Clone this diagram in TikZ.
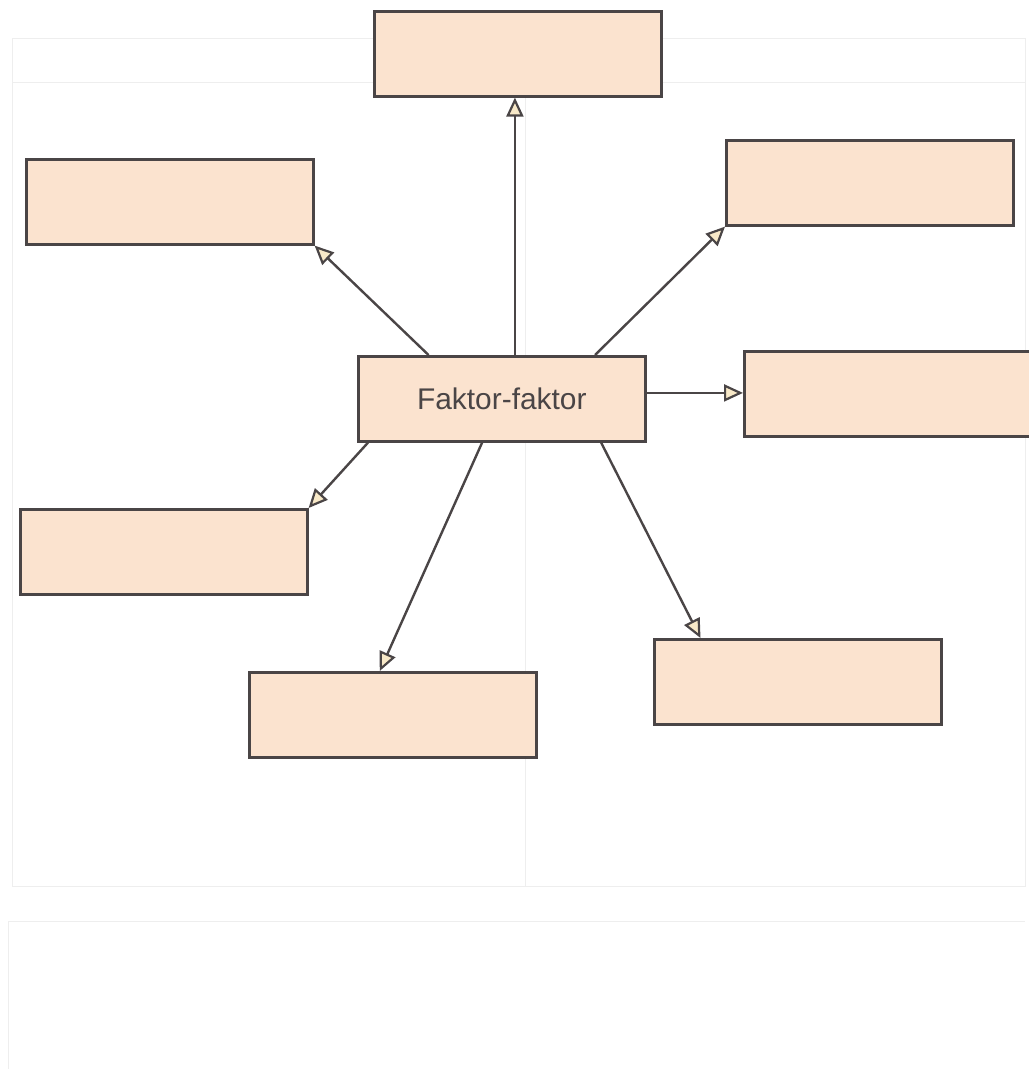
\documentclass[tikz,border=0pt]{standalone}
\usepackage{fontspec}
\setmainfont{Liberation Sans}
\usetikzlibrary{arrows.meta,calc}
\definecolor{boxfill}{HTML}{FBE3CF}
\definecolor{boxline}{HTML}{4A4546}
\definecolor{tipfill}{HTML}{F8E9C8}
\definecolor{faint}{HTML}{EEEEEE}
\tikzset{
  fbox/.style={draw=boxline,fill=boxfill,line width=2.6bp,minimum width=287bp,minimum height=85bp,inner sep=0pt,anchor=north west},
  conn/.style={draw=boxline,line width=2.4bp,-{Triangle[length=19bp,width=17bp,open,fill=tipfill,line width=2.2bp]}},
  faintline/.style={draw=faint,line width=1bp}
}
\begin{document}
\begin{tikzpicture}[x=1bp,y=-1bp]
\useasboundingbox (0,0) rectangle (1029,1069);
% faint show-through frames
\draw[faintline] (12,38) rectangle (1025,886);
\draw[faintline] (12,82) -- (1025,82);
\draw[faintline] (525,38) -- (525,886);
\draw[faintline] (8,921) -- (1025,921);
\draw[faintline] (8,921) -- (8,1069);
% boxes
\node[fbox] (top) at (373,10) {};
\node[fbox] (ul) at (25,158) {};
\node[fbox] (ur) at (725,139) {};
\node[fbox] (r) at (743,350) {};
\node[fbox,font=\fontsize{30}{35}\selectfont,text=boxline] (c) at (357,355) {Faktor-faktor};
\node[fbox] (ll) at (19,508) {};
\node[fbox] (b) at (248,671) {};
\node[fbox] (lr) at (653,638) {};
% connector anchors
\coordinate (tt) at ($(top.south west)!0.49!(top.south east)$);
\coordinate (cup) at (c.north -| tt);
\coordinate (rr) at ($(r.north west)!0.49!(r.south west)$);
\coordinate (crt) at (c.east |- rr);
\coordinate (cul) at ($(c.north west)!0.247!(c.north east)$);
\coordinate (cur) at ($(c.north west)!0.822!(c.north east)$);
\coordinate (cll) at ($(c.south west)!0.038!(c.south east)$);
\coordinate (cb) at ($(c.south west)!0.432!(c.south east)$);
\coordinate (clr) at ($(c.south west)!0.843!(c.south east)$);
\coordinate (bt) at ($(b.north west)!0.455!(b.north east)$);
\coordinate (lrt) at ($(lr.north west)!0.164!(lr.north east)$);
% connectors
\draw[conn] (cup) -- (tt);
\draw[conn] (cul) -- (ul.south east);
\draw[conn] (cur) -- (ur.south west);
\draw[conn] (crt) -- (rr);
\draw[conn] (cll) -- (ll.north east);
\draw[conn] (cb) -- (bt);
\draw[conn] (clr) -- (lrt);
\end{tikzpicture}
\end{document}
